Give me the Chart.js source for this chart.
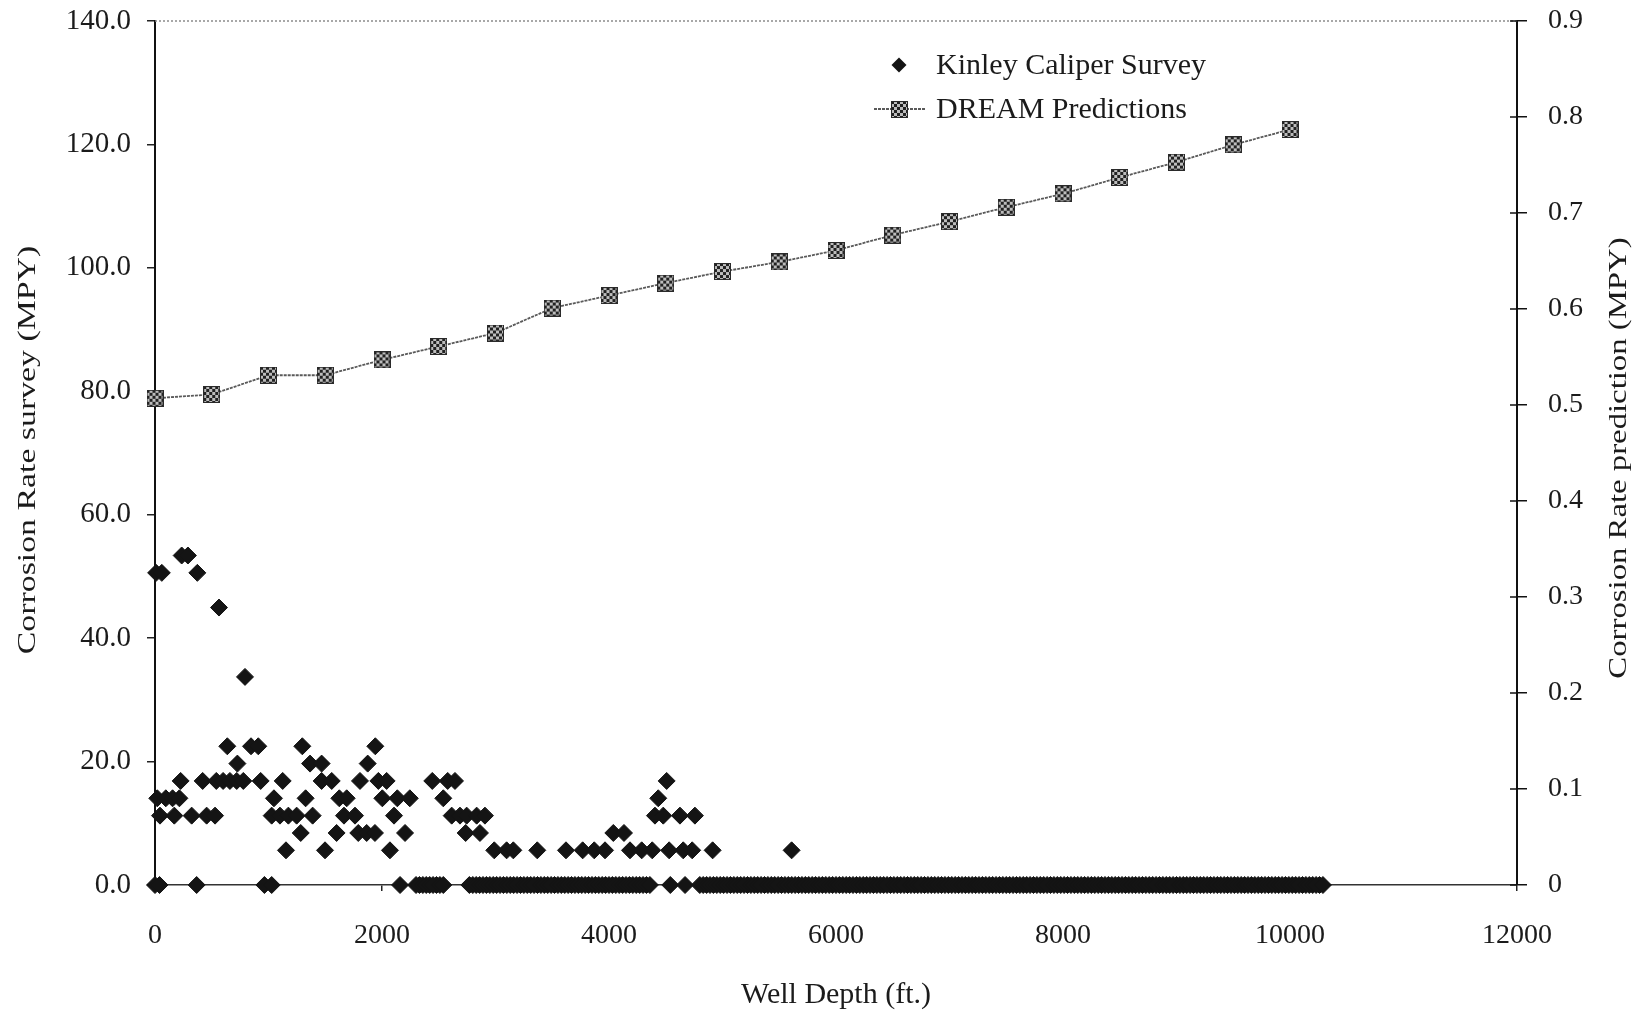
<!DOCTYPE html>
<html lang="en">
<head>
<meta charset="UTF-8">
<title>Corrosion Rate vs Well Depth</title>
<script src="https://cdn.jsdelivr.net/npm/chart.js"></script>
<style>
  html, body { margin: 0; padding: 0; background: #fff; }
  canvas { display: block; }
</style>
</head>
<body>
<canvas id="chart" width="1643" height="1017"></canvas>
<script>
// Kinley caliper survey: rates come in fixed steps (MPY), one depth list (ft) per step
const surveyRates = [0, 5.62, 8.43, 11.24, 14.05, 16.86, 19.67, 22.48, 33.72, 44.96, 50.58, 53.39];

const depthsAt0 = [
  0, 40, 367, 964, 1028, 2159,
  2300, 2330, 2360, 2390, 2420, 2450, 2480, 2510, 2540,
  2770, 2800, 2830, 2860, 2890, 2920, 2950, 2980, 3010, 3040,
  3070, 3100, 3130, 3160, 3190, 3220, 3250, 3280, 3310, 3340,
  3370, 3400, 3430, 3460, 3490, 3520, 3550, 3580, 3610, 3640,
  3670, 3700, 3730, 3760, 3790, 3820, 3850, 3880, 3910, 3940,
  3970, 4000, 4030, 4060, 4090, 4120, 4150, 4180, 4210, 4240,
  4270, 4300, 4330, 4360,
  4540, 4670,
  4800, 4830, 4860, 4890, 4920, 4950, 4980, 5010, 5040, 5070,
  5100, 5130, 5160, 5190, 5220, 5250, 5280, 5310, 5340, 5370,
  5400, 5430, 5460, 5490, 5520, 5550, 5580, 5610, 5640, 5670,
  5700, 5730, 5760, 5790, 5820, 5850, 5880, 5910, 5940, 5970,
  6000, 6030, 6060, 6090, 6120, 6150, 6180, 6210, 6240, 6270,
  6300, 6330, 6360, 6390, 6420, 6450, 6480, 6510, 6540, 6570,
  6600, 6630, 6660, 6690, 6720, 6750, 6780, 6810, 6840, 6870,
  6900, 6930, 6960, 6990, 7020, 7050, 7080, 7110, 7140, 7170,
  7200, 7230, 7260, 7290, 7320, 7350, 7380, 7410, 7440, 7470,
  7500, 7530, 7560, 7590, 7620, 7650, 7680, 7710, 7740, 7770,
  7800, 7830, 7860, 7890, 7920, 7950, 7980, 8010, 8040, 8070,
  8100, 8130, 8160, 8190, 8220, 8250, 8280, 8310, 8340, 8370,
  8400, 8430, 8460, 8490, 8520, 8550, 8580, 8610, 8640, 8670,
  8700, 8730, 8760, 8790, 8820, 8850, 8880, 8910, 8940, 8970,
  9000, 9030, 9060, 9090, 9120, 9150, 9180, 9210, 9240, 9270,
  9300, 9330, 9360, 9390, 9420, 9450, 9480, 9510, 9540, 9570,
  9600, 9630, 9660, 9690, 9720, 9750, 9780, 9810, 9840, 9870,
  9900, 9930, 9960, 9990, 10020, 10050, 10080, 10110, 10140, 10170,
  10200, 10230, 10260, 10290
];
const depthsAt5_6 = [1154, 1498, 2070, 2989, 3098, 3157, 3368, 3621, 3768, 3870, 3965,
  4185, 4288, 4381, 4530, 4654, 4733, 4913, 5609];
const depthsAt8_4 = [1284, 1600, 1791, 1865, 1938, 2203, 2737, 2863, 4038, 4132];
const depthsAt11_2 = [44, 170, 323, 455, 529, 1028, 1101, 1175, 1248, 1389, 1665, 1762,
  2106, 2614, 2687, 2746, 2834, 2907, 4405, 4478, 4625, 4757];
const depthsAt14_0 = [20, 95, 155, 215, 1048, 1327, 1624, 1689, 2003, 2135, 2245, 2540, 4434];
const depthsAt16_9 = [226, 420, 540, 600, 660, 720, 778, 931, 1125, 1468, 1557, 1806,
  1968, 2041, 2443, 2579, 2643, 4508];
const depthsAt19_7 = [726, 1366, 1468, 1874];
const depthsAt22_5 = [637, 846, 910, 1298, 1941];
const depthsAt33_7 = [793];
const depthsAt45_0 = [564];
const depthsAt50_6 = [10, 60, 373];
const depthsAt53_4 = [235, 290];

const surveyDepths = [depthsAt0, depthsAt5_6, depthsAt8_4, depthsAt11_2, depthsAt14_0,
  depthsAt16_9, depthsAt19_7, depthsAt22_5, depthsAt33_7, depthsAt45_0, depthsAt50_6, depthsAt53_4];

// DREAM model predictions every 500 ft (right axis, MPY)
const dreamDepth = [0, 500, 1000, 1500, 2000, 2500, 3000, 3500, 4000, 4500, 5000,
  5500, 6000, 6500, 7000, 7500, 8000, 8500, 9000, 9500, 10000];
const dreamRate = [0.507, 0.511, 0.531, 0.531, 0.547, 0.561, 0.575, 0.601, 0.614, 0.627, 0.639,
  0.649, 0.661, 0.677, 0.691, 0.706, 0.720, 0.737, 0.753, 0.771, 0.787];

// axis ticks
const depthTicks = [0, 2000, 4000, 6000, 8000, 10000, 12000];
const surveyTicks = [0, 20, 40, 60, 80, 100, 120, 140];
const predictionTicks = [0, 0.1, 0.2, 0.3, 0.4, 0.5, 0.6, 0.7, 0.8, 0.9];

const SERIF = '"Liberation Serif", "Times New Roman", serif';
const INK = '#1b1b1b';

const surveyPoints = [];
surveyRates.forEach((rate, i) => {
  surveyDepths[i].forEach(d => surveyPoints.push({ x: d, y: rate }));
});
const dreamPoints = dreamDepth.map((d, i) => ({ x: d, y: dreamRate[i] }));

// checkered square used as the prediction marker
function makeCheckerMarker(size) {
  const c = document.createElement('canvas');
  c.width = size;
  c.height = size;
  const g = c.getContext('2d');
  g.fillStyle = '#bdbdbd';
  g.fillRect(0, 0, size, size);
  g.fillStyle = '#222';
  for (let i = 0; i < size; i += 3) {
    for (let j = 0; j < size; j += 3) {
      if (((i + j) / 3) % 2 === 0) g.fillRect(i, j, 3, 3);
    }
  }
  g.strokeStyle = '#2a2a2a';
  g.lineWidth = 1;
  g.strokeRect(0.5, 0.5, size - 1, size - 1);
  return c;
}
const checker = makeCheckerMarker(17);

function useTicks(list) {
  return scale => { scale.ticks = list.map(v => ({ value: v })); };
}

// side scales keep a fixed width and do not push the plot edges in
function fixSide(width) {
  return scale => {
    scale.width = width;
    scale.paddingTop = 0;
    scale.paddingBottom = 0;
  };
}

function drawSideTitle(ctx, text, x, y, stretch) {
  ctx.save();
  ctx.translate(x, y);
  ctx.rotate(-Math.PI / 2);
  ctx.scale(stretch, 1);
  ctx.font = '26px ' + SERIF;
  ctx.fillStyle = INK;
  ctx.textAlign = 'center';
  ctx.textBaseline = 'middle';
  ctx.fillText(text, 0, 0);
  ctx.restore();
}

// frame details, side titles and the in-plot legend
const decorations = {
  id: 'decorations',
  afterDraw(chart) {
    const { ctx, chartArea: a, scales } = chart;
    ctx.save();

    // dotted top edge of the plot
    ctx.strokeStyle = '#8c8c8c';
    ctx.lineWidth = 1.5;
    ctx.setLineDash([2, 2]);
    ctx.beginPath();
    ctx.moveTo(a.left, a.top);
    ctx.lineTo(a.right, a.top);
    ctx.stroke();
    ctx.setLineDash([]);

    // right axis ticks cross into the plot
    ctx.strokeStyle = '#111';
    ctx.lineWidth = 1.5;
    scales.y2.ticks.forEach(t => {
      const y = scales.y2.getPixelForValue(t.value);
      ctx.beginPath();
      ctx.moveTo(a.right - 7, y);
      ctx.lineTo(a.right, y);
      ctx.stroke();
    });

    drawSideTitle(ctx, 'Corrosion Rate survey (MPY)', 28, 450, 1.3);
    drawSideTitle(ctx, 'Corrosion Rate prediction (MPY)', 1619, 458, 1.26);

    // legend
    const survey = chart.data.datasets[0];
    const dream = chart.data.datasets[1];
    ctx.font = '30px ' + SERIF;
    ctx.textAlign = 'left';
    ctx.textBaseline = 'middle';

    const r = survey.pointRadius - 1;
    ctx.fillStyle = survey.backgroundColor;
    ctx.beginPath();
    ctx.moveTo(899 - r, 65);
    ctx.lineTo(899, 65 - r);
    ctx.lineTo(899 + r, 65);
    ctx.lineTo(899, 65 + r);
    ctx.closePath();
    ctx.fill();
    ctx.fillStyle = INK;
    ctx.fillText(survey.label, 936, 66);

    ctx.strokeStyle = dream.borderColor;
    ctx.lineWidth = dream.borderWidth;
    ctx.setLineDash(dream.borderDash);
    ctx.beginPath();
    ctx.moveTo(874, 109);
    ctx.lineTo(926, 109);
    ctx.stroke();
    ctx.setLineDash([]);
    ctx.drawImage(checker, 899 - Math.floor(checker.width / 2), 109 - Math.floor(checker.height / 2));
    ctx.fillText(dream.label, 936, 110);

    ctx.restore();
  }
};

const tickFont = { family: SERIF, size: 28 };

new Chart(document.getElementById('chart'), {
  type: 'scatter',
  data: {
    datasets: [
      {
        label: 'Kinley Caliper Survey',
        data: surveyPoints,
        yAxisID: 'y',
        pointStyle: 'rectRot',
        pointRadius: 8.5,
        backgroundColor: '#141414',
        borderColor: '#141414',
        borderWidth: 1,
        clip: false
      },
      {
        type: 'line',
        label: 'DREAM Predictions',
        data: dreamPoints,
        yAxisID: 'y2',
        borderColor: '#5a5a5a',
        borderWidth: 1.8,
        borderDash: [3, 1],
        pointStyle: checker,
        pointRadius: 8,
        fill: false,
        tension: 0,
        clip: false
      }
    ]
  },
  options: {
    responsive: false,
    animation: false,
    devicePixelRatio: 1,
    layout: { padding: { top: 21, left: 0, right: 0, bottom: 0 } },
    plugins: {
      legend: { display: false },
      tooltip: { enabled: false }
    },
    scales: {
      x: {
        type: 'linear',
        position: 'bottom',
        min: 0,
        max: 12000,
        afterBuildTicks: useTicks(depthTicks),
        afterFit: s => { s.height = 132; },
        ticks: { font: tickFont, color: INK, padding: 28, maxRotation: 0, callback: v => String(v) },
        grid: { drawOnChartArea: false, drawTicks: true, tickLength: 6, color: '#222', lineWidth: 1.5 },
        border: { color: '#333', width: 1.5 },
        title: {
          display: true,
          text: 'Well Depth (ft.)',
          font: { family: SERIF, size: 30 },
          color: INK,
          padding: { top: 0, bottom: 4 }
        }
      },
      y: {
        type: 'linear',
        position: 'left',
        min: 0,
        max: 140,
        afterBuildTicks: useTicks(surveyTicks),
        afterFit: fixSide(155),
        ticks: { font: { family: SERIF, size: 29 }, color: INK, padding: 16, callback: v => v.toFixed(1) },
        grid: { drawOnChartArea: false, drawTicks: true, tickLength: 8, color: '#222', lineWidth: 1.5 },
        border: { color: '#111', width: 2 }
      },
      y2: {
        type: 'linear',
        position: 'right',
        min: 0,
        max: 0.9,
        afterBuildTicks: useTicks(predictionTicks),
        afterFit: fixSide(126),
        ticks: {
          font: tickFont,
          color: INK,
          padding: 21,
          callback: v => (v === 0 ? '0' : (Math.round(v * 10) / 10).toFixed(1))
        },
        grid: { drawOnChartArea: false, drawTicks: true, tickLength: 10, color: '#111', lineWidth: 1.5 },
        border: { color: '#111', width: 2 }
      }
    }
  },
  plugins: [decorations]
});
</script>
</body>
</html>
